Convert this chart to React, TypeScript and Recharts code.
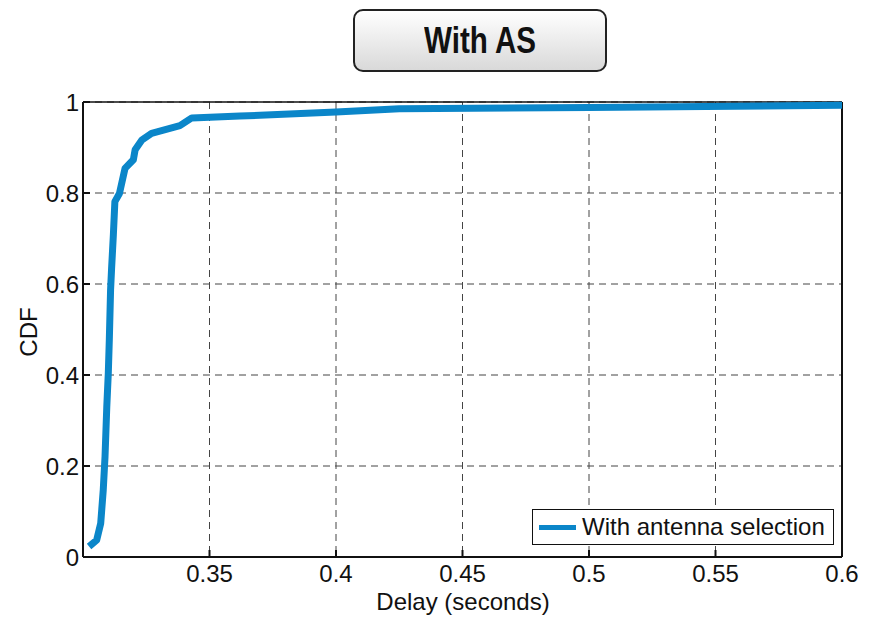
import {
  LineChart,
  Line,
  XAxis,
  YAxis,
  CartesianGrid,
  ReferenceLine,
  Legend,
} from "recharts";

// CDF of delay
const delay = [
  0.3024, 0.3054, 0.307, 0.308, 0.3087, 0.3094, 0.31, 0.3104, 0.3109, 0.3113,
  0.312, 0.3126, 0.3144, 0.3166, 0.3199, 0.3206, 0.3232, 0.3271, 0.3383,
  0.343, 0.362, 0.4, 0.425, 0.5, 0.6,
];
const cdf = [
  0.023, 0.037, 0.074, 0.147, 0.22, 0.33, 0.404, 0.477, 0.587, 0.634, 0.708,
  0.781, 0.799, 0.854, 0.873, 0.895, 0.916, 0.931, 0.948, 0.965, 0.969, 0.978,
  0.985, 0.988, 0.993,
];
const xTicks = [0.35, 0.4, 0.45, 0.5, 0.55, 0.6];
const yTicks = [0, 0.2, 0.4, 0.6, 0.8, 1];

const seriesName = "With antenna selection";
const lineColor = "#0b86c9";
const font = "'Liberation Sans', Arial, sans-serif";

const data = delay.map((d, i) => ({ delay: d, cdf: cdf[i] }));

const LegendBox = () => (
  <div
    style={{
      width: 302,
      height: 36,
      border: "1.5px solid #111",
      background: "#fff",
      display: "flex",
      alignItems: "center",
      boxSizing: "border-box",
      fontFamily: font,
      fontSize: 24,
      color: "#111",
    }}
  >
    <span
      style={{
        display: "inline-block",
        width: 37,
        height: 5,
        background: lineColor,
        marginLeft: 6,
        marginRight: 6,
      }}
    />
    <span>{seriesName}</span>
  </div>
);

const App = () => {
  return (
    <div
      style={{
        position: "absolute",
        left: 0,
        top: 0,
        width: 873,
        height: 618,
        background: "#fff",
      }}
    >
      {/* Title box */}
      <div
        style={{
          position: "absolute",
          left: 353,
          top: 9,
          width: 254,
          height: 63,
          boxSizing: "border-box",
          border: "2px solid #222",
          borderRadius: 10,
          background: "linear-gradient(#ffffff, #d9d9d9)",
          display: "flex",
          alignItems: "center",
          justifyContent: "center",
          fontFamily: font,
          fontWeight: "bold",
          fontSize: 37,
          color: "#111",
        }}
      >
        <span style={{ display: "inline-block", transform: "scaleX(0.8)" }}>
          With AS
        </span>
      </div>

      <LineChart
        width={873}
        height={618}
        data={data}
        margin={{ top: 102, right: 31, left: 0, bottom: 0 }}
      >
        <CartesianGrid
          stroke="#444"
          strokeDasharray="7 5"
          strokeWidth={1}
          vertical
          horizontal
        />
        <XAxis
          dataKey="delay"
          type="number"
          domain={[0.3, 0.6]}
          ticks={xTicks}
          allowDataOverflow
          height={61}
          stroke="#111"
          strokeWidth={2}
          tickSize={-7}
          tickMargin={15}
          tick={{ fill: "#111", fontSize: 24, fontFamily: font }}
          label={{
            content: () => (
              <text
                x={463}
                y={610}
                textAnchor="middle"
                fill="#111"
                fontSize={24}
                fontFamily={font}
              >
                Delay (seconds)
              </text>
            ),
          }}
        />
        <YAxis
          type="number"
          domain={[0, 1]}
          ticks={yTicks}
          width={83}
          stroke="#111"
          strokeWidth={2}
          tickSize={-7}
          tickMargin={11}
          tick={{ fill: "#111", fontSize: 24, fontFamily: font }}
          label={{
            content: () => (
              <text
                x={37}
                y={332}
                transform="rotate(-90 37 332)"
                textAnchor="middle"
                fill="#111"
                fontSize={24}
                fontFamily={font}
              >
                CDF
              </text>
            ),
          }}
        />
        <ReferenceLine y={1} stroke="#111" strokeWidth={1.5} />
        <ReferenceLine x={0.6} stroke="#111" strokeWidth={2} />
        <Legend
          layout="vertical"
          align="center"
          verticalAlign="middle"
          wrapperStyle={{ left: 532, top: 509, width: 302 }}
          content={() => <LegendBox />}
        />
        <Line
          type="linear"
          dataKey="cdf"
          name={seriesName}
          stroke={lineColor}
          strokeWidth={7}
          strokeLinejoin="round"
          dot={false}
          isAnimationActive={false}
        />
      </LineChart>
    </div>
  );
};

export default App;
